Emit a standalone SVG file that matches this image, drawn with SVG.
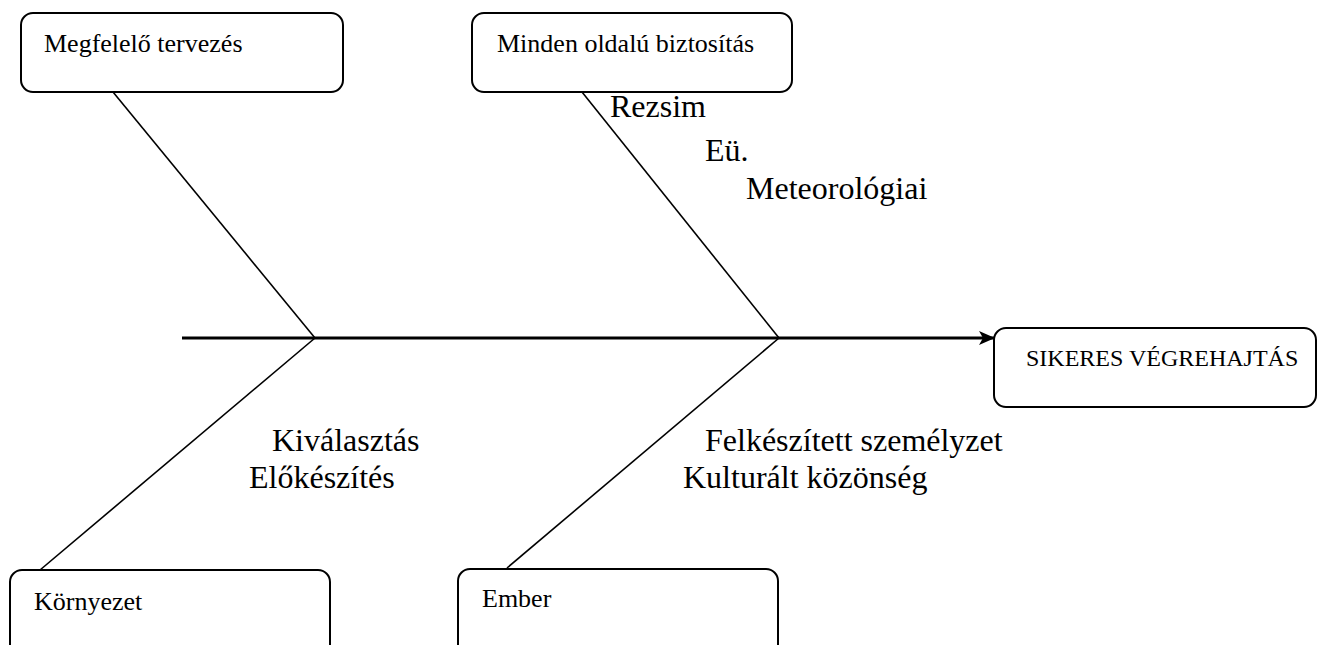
<svg xmlns="http://www.w3.org/2000/svg" width="1319" height="645" viewBox="0 0 1319 645">
<defs>
<style>
.box{fill:#fff;stroke:#000;stroke-width:2}
.bl{font-family:"Liberation Serif","Times New Roman",serif;font-size:26px;fill:#000}
.lb{font-family:"Liberation Serif","Times New Roman",serif;font-size:32px;fill:#000}
.bone{stroke:#000;stroke-width:1.6;fill:none}
.spine{stroke:#000;stroke-width:3;fill:none}
</style>
<marker id="arr" markerWidth="16" markerHeight="14" refX="15" refY="7" orient="auto" markerUnits="userSpaceOnUse" viewBox="0 0 16 14">
<path d="M0,0 L16,7 L0,14 L4,7 Z" fill="#000"/>
</marker>
</defs>
<rect width="1319" height="645" fill="#fff"/>
<g id="connectors">
<line class="spine" x1="182" y1="338" x2="994" y2="338" marker-end="url(#arr)"/>
<line class="bone" x1="113" y1="92" x2="315" y2="338"/>
<line class="bone" x1="582" y1="92" x2="779" y2="338"/>
<line class="bone" x1="315" y1="338" x2="40" y2="570"/>
<line class="bone" x1="779" y1="338" x2="507" y2="568"/>
</g>
<g id="node-tervezes">
<rect class="box" x="21" y="13" width="322" height="79" rx="12"/>
<text class="bl" x="44" y="52">Megfelelő tervezés</text>
</g>
<g id="node-biztositas">
<rect class="box" x="472" y="13" width="320" height="79" rx="12"/>
<text class="bl" x="497" y="52">Minden oldalú biztosítás</text>
</g>
<g id="node-siker">
<rect class="box" x="994" y="328" width="322" height="79" rx="12"/>
<text class="bl" x="1026" y="366" style="font-size:24px">SIKERES VÉGREHAJTÁS</text>
</g>
<g id="node-kornyezet">
<rect class="box" x="10" y="570" width="320" height="90" rx="12"/>
<text class="bl" x="34" y="610">Környezet</text>
</g>
<g id="node-ember">
<rect class="box" x="458" y="569" width="320" height="90" rx="12"/>
<text class="bl" x="482" y="607">Ember</text>
</g>
<g id="labels">
<text class="lb" x="610" y="117">Rezsim</text>
<text class="lb" x="705" y="161">Eü.</text>
<text class="lb" x="746" y="199">Meteorológiai</text>
<text class="lb" x="272" y="451">Kiválasztás</text>
<text class="lb" x="249" y="488">Előkészítés</text>
<text class="lb" x="705" y="451">Felkészített személyzet</text>
<text class="lb" x="683" y="488">Kulturált közönség</text>
</g>
</svg>
